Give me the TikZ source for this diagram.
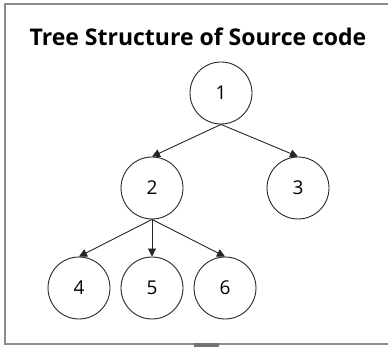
\documentclass[tikz,border=0pt]{standalone}
\usepackage{fontspec}
\setmainfont{Open Sans}
\usetikzlibrary{arrows.meta}
\begin{document}
\begin{tikzpicture}[x=1pt,y=-1pt,
  treenode/.style={circle,draw=black!85,line width=0.9pt,minimum size=62pt,inner sep=0pt,font=\fontsize{19}{19}\selectfont},
  edge/.style={draw=black!85,line width=0.9pt,-{Triangle[length=8pt,width=8pt]}},
  frame/.style={draw=black!45,line width=2pt}]
\useasboundingbox (0,0) rectangle (388,347);
\draw[frame] (388,4.5) -- (5,4.5) -- (5,343.5) -- (388,343.5);
\fill[black!55] (194,343) rectangle (219,347);
\node[font=\fontsize{23}{23}\selectfont\bfseries] (title) at (198,37) {Tree Structure of Source code};
\node[treenode] (n1) at (221,93) {1};
\node[treenode] (n2) at (152,188) {2};
\node[treenode] (n3) at (298,188) {3};
\node[treenode] (n4) at (79,288) {4};
\node[treenode] (n5) at (152,288) {5};
\node[treenode] (n6) at (225,288) {6};
\draw[edge] (n1.south) -- (n2.north);
\draw[edge] (n1.south) -- (n3.north);
\draw[edge] (n2.south) -- (n4.north);
\draw[edge] (n2.south) -- (n5.north);
\draw[edge] (n2.south) -- (n6.north);
\end{tikzpicture}
\end{document}
